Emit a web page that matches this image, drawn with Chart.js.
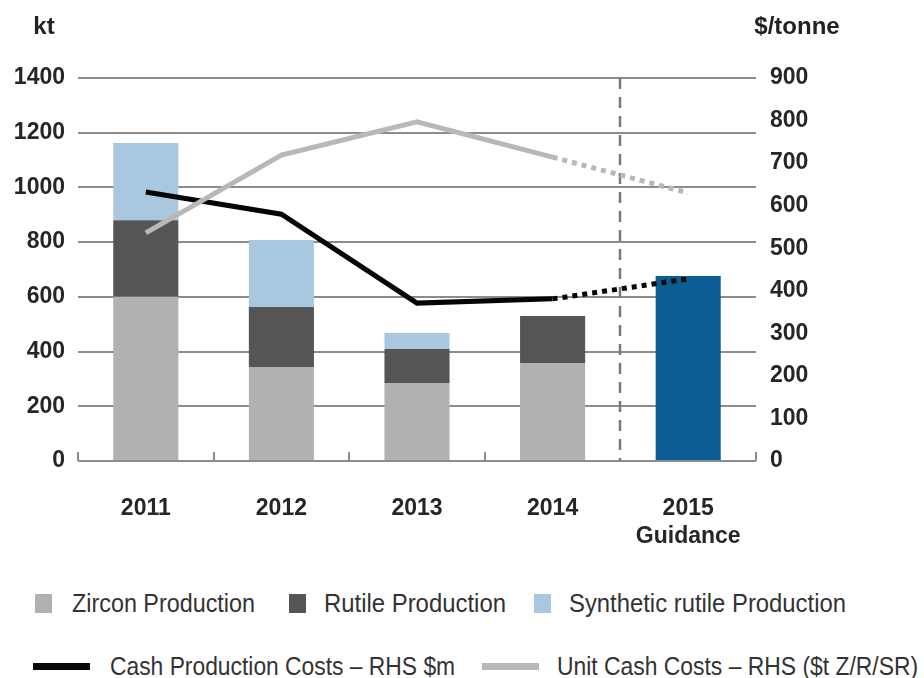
<!DOCTYPE html>
<html>
<head>
<meta charset="utf-8">
<script src="https://cdn.jsdelivr.net/npm/chart.js@4.4.1/dist/chart.umd.min.js"></script>
<style>
  html, body { margin: 0; padding: 0; background: #fff; }
  #wrap { position: relative; width: 924px; height: 678px; overflow: hidden; }
  #chart { position: absolute; left: 0; top: 0; }
  .leg { position: absolute; height: 34px; white-space: nowrap;
         font-family: "Liberation Sans", Arial, sans-serif; font-size: 26px; color: #333; }
  .sw { position: absolute; }
  .txt { position: absolute; top: 0; line-height: 34px; transform-origin: 0 50%; }
</style>
</head>
<body>
<div id="wrap">
  <canvas id="chart" width="924" height="560"></canvas>
  <div id="legend"></div>
</div>
<script>
// categories
const years = ['2011', '2012', '2013', '2014', ['2015', 'Guidance']];

// production, kt (left axis)
const zircon = [600, 344, 285, 358, null];
const rutile = [280, 219, 124, 172, null];
const syntheticRutile = [282, 245, 59, null, null];
const guidance2015 = [null, null, null, null, 676];

// costs (right axis)
const cashCosts = [632, 580, 371, 381, 428];
const unitCosts = [536, 719, 797, 714, 630];

const tickFont = { family: '"Liberation Sans", Arial, sans-serif', size: 23, weight: 'bold' };
const gridGrey = '#8c8c8c';

// last segment (2014 -> 2015) is a forecast, drawn dotted
const forecastDash = c => c.p0DataIndex === 3 ? [5, 5] : undefined;

const extras = {
    id: 'extras',
    beforeDatasetsDraw(chart) {
        const { ctx, chartArea: a, scales: { x } } = chart;
        const step = (a.right - a.left) / years.length;
        ctx.save();
        ctx.strokeStyle = gridGrey;
        ctx.lineWidth = 2;
        // small upward ticks at category boundaries
        for (let i = 0; i <= years.length; i++) {
            if (i === 4) continue;
            const px = Math.round(a.left + i * step);
            ctx.beginPath();
            ctx.moveTo(px, a.bottom);
            ctx.lineTo(px, a.bottom - 9);
            ctx.stroke();
        }
        // dashed divider between actuals and guidance
        const dx = Math.round((x.getPixelForValue(3) + x.getPixelForValue(4)) / 2);
        ctx.strokeStyle = '#7a7a7a';
        ctx.lineWidth = 2.5;
        ctx.setLineDash([11, 8]);
        ctx.beginPath();
        ctx.moveTo(dx, a.top);
        ctx.lineTo(dx, a.bottom);
        ctx.stroke();
        ctx.restore();
    },
    afterDraw(chart) {
        const { ctx } = chart;
        ctx.save();
        ctx.fillStyle = '#222';
        ctx.font = 'bold 24px "Liberation Sans", Arial, sans-serif';
        ctx.textBaseline = 'middle';
        ctx.textAlign = 'center';
        ctx.fillText('kt', 44, 27);
        ctx.fillText('$/tonne', 797, 27);
        ctx.restore();
    }
};

const chart = new Chart(document.getElementById('chart'), {
    data: {
        labels: years,
        datasets: [
            { type: 'bar', label: 'Zircon Production', data: zircon, backgroundColor: '#b1b1b1', yAxisID: 'y', stack: 'p', order: 2 },
            { type: 'bar', label: 'Rutile Production', data: rutile, backgroundColor: '#555555', yAxisID: 'y', stack: 'p', order: 2 },
            { type: 'bar', label: 'Synthetic rutile Production', data: syntheticRutile, backgroundColor: '#aac7e0', yAxisID: 'y', stack: 'p', order: 2 },
            { type: 'bar', label: '2015 Guidance', data: guidance2015, backgroundColor: '#0b5e94', yAxisID: 'y', stack: 'p', order: 2 },
            {
                type: 'line', label: 'Cash Production Costs \u2013 RHS $m', data: cashCosts, yAxisID: 'y1',
                borderColor: '#050505', borderWidth: 5, pointRadius: 0, tension: 0, order: 1,
                borderCapStyle: 'butt', segment: { borderDash: forecastDash }
            },
            {
                type: 'line', label: 'Unit Cash Costs \u2013 RHS ($t Z/R/SR)', data: unitCosts, yAxisID: 'y1',
                borderColor: '#b8b8b8', borderWidth: 5, pointRadius: 0, tension: 0, order: 0,
                borderCapStyle: 'butt', segment: { borderDash: forecastDash }
            }
        ]
    },
    options: {
        responsive: false,
        animation: false,
        layout: { padding: { top: 78, bottom: 0, left: 0, right: 0 } },
        datasets: { bar: { categoryPercentage: 1, barPercentage: 0.48 } },
        plugins: { legend: { display: false }, tooltip: { enabled: false } },
        scales: {
            x: {
                stacked: true,
                grid: { display: false },
                border: { display: false },
                ticks: { font: tickFont, color: '#262626', padding: 26, maxRotation: 0 },
                afterFit: s => { s.height = 99; }
            },
            y: {
                stacked: true,
                min: 0, max: 1400,
                ticks: { stepSize: 200, font: tickFont, color: '#262626', padding: 13, callback: v => String(v) },
                grid: { color: gridGrey, lineWidth: 2, drawTicks: false },
                border: { display: false },
                afterFit: s => { s.width = 78; }
            },
            y1: {
                position: 'right',
                min: 0, max: 900,
                ticks: { stepSize: 100, font: tickFont, color: '#262626', padding: 14, callback: v => String(v) },
                grid: { drawOnChartArea: false, drawTicks: false },
                border: { display: false },
                afterFit: s => { s.width = 168; }
            }
        }
    },
    plugins: [extras]
});

// HTML legend built from the chart's datasets; text squeezed to the narrow face of the original
const legendSlots = [
    { ds: 0, left: 35, textLeft: 72, textWidth: 183, top: 603, sw: 'box' },
    { ds: 1, left: 289, textLeft: 324, textWidth: 182, top: 603, sw: 'box' },
    { ds: 2, left: 534, textLeft: 569, textWidth: 277, top: 603, sw: 'box' },
    { ds: 4, left: 33, textLeft: 110, textWidth: 345, top: 666, sw: 'line' },
    { ds: 5, left: 482, textLeft: 557, textWidth: 361, top: 666, sw: 'line' }
];
const legend = document.getElementById('legend');
legendSlots.forEach(slot => {
    const ds = chart.data.datasets[slot.ds];
    const item = document.createElement('div');
    item.className = 'leg';
    item.style.left = slot.left + 'px';
    item.style.top = (slot.top - 17) + 'px';
    item.style.width = (slot.textLeft - slot.left + slot.textWidth + 10) + 'px';
    const sw = document.createElement('span');
    sw.className = 'sw';
    if (slot.sw === 'box') {
        sw.style.left = '0px';
        sw.style.top = '8px';
        sw.style.width = '17px';
        sw.style.height = '19px';
        sw.style.background = ds.backgroundColor;
    } else {
        sw.style.left = '0px';
        sw.style.top = '14px';
        sw.style.width = '57px';
        sw.style.height = '7px';
        sw.style.background = ds.borderColor;
    }
    item.appendChild(sw);
    const txt = document.createElement('span');
    txt.className = 'txt';
    txt.textContent = ds.label;
    txt.style.left = (slot.textLeft - slot.left) + 'px';
    item.appendChild(txt);
    legend.appendChild(item);
    const k = slot.textWidth / txt.getBoundingClientRect().width;
    txt.style.transform = 'scaleX(' + k.toFixed(3) + ')';
});
</script>
</body>
</html>
